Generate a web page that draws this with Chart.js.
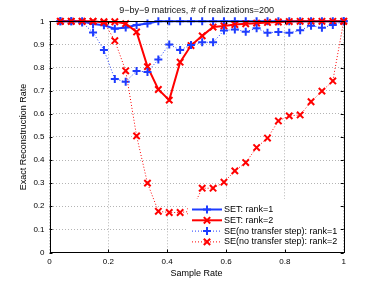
<!DOCTYPE html>
<html>
<head>
<meta charset="utf-8">
<script src="https://cdn.jsdelivr.net/npm/chart.js@4"></script>
<style>
  html, body { margin: 0; padding: 0; background: #fff; }
  #wrap { width: 379px; height: 285px; }
</style>
</head>
<body>
<div id="wrap"><canvas id="chart"></canvas></div>
<script>
// sample rate = m/81 entries observed, m = 3, 6, ..., 81
const sampleRate = [0.037, 0.074, 0.111, 0.148, 0.185, 0.222, 0.259, 0.296, 0.333,
  0.370, 0.407, 0.444, 0.481, 0.519, 0.556, 0.593, 0.630, 0.667,
  0.704, 0.741, 0.778, 0.815, 0.852, 0.889, 0.926, 0.963, 1];

const setRank1 = [1, 1, 1, 0.988, 0.983, 0.968, 0.973, 0.984, 0.99,
  1, 1, 1, 1, 1, 1, 1, 1, 1, 1, 1, 1, 1, 1, 1, 1, 1, 1];
const setRank2 = [1, 1, 1, 1, 0.995, 0.998, 0.99, 0.954, 0.804,
  0.705, 0.659, 0.823, 0.895, 0.937, 0.975, 0.98, 0.986, 0.989,
  0.992, 0.995, 0.997, 0.999, 1, 1, 1, 1, 1];
const seRank1 = [1, 1, 0.995, 0.952, 0.876, 0.75, 0.739, 0.785, 0.781,
  0.835, 0.9, 0.876, 0.898, 0.909, 0.909, 0.96, 0.965, 0.955,
  0.97, 0.95, 0.954, 0.95, 0.961, 0.981, 0.972, 0.984, 1];
const seRank2 = [1, 1, 1, 1, 0.998, 0.916, 0.786, 0.504, 0.3,
  0.178, 0.173, 0.173, 0.178, 0.278, 0.278, 0.304, 0.353, 0.389,
  0.454, 0.495, 0.569, 0.591, 0.595, 0.652, 0.698, 0.742, 1];

const seriesNames = ['SET: rank=1', 'SET: rank=2',
  'SE(no transfer step): rank=1', 'SE(no transfer step): rank=2'];
const xTicks = [0, 0.2, 0.4, 0.6, 0.8, 1];
const yTicks = [0, 0.1, 0.2, 0.3, 0.4, 0.5, 0.6, 0.7, 0.8, 0.9, 1];

const BLUE = 'rgb(30,60,255)';
const RED = 'rgb(255,0,0)';
const FONT = '"Liberation Sans", Arial, Helvetica, sans-serif';

function pts(vals) {
  return vals.map((v, i) => ({ x: sampleRate[i], y: v }));
}

function series(label, vals, color, solid, style, order) {
  return {
    label: label,
    data: pts(vals),
    borderColor: color,
    backgroundColor: color,
    borderWidth: solid ? 2 : 1,
    borderDash: solid ? [] : [1, 2],
    pointStyle: style,
    pointRadius: style === 'cross' ? 4 : 4.5,
    pointHoverRadius: 4,
    pointBorderWidth: 2,
    pointBorderColor: color,
    pointBackgroundColor: color,
    fill: false,
    tension: 0,
    clip: false,
    order: order
  };
}

// legend drawn in the lower right like the matlab one
const matLegend = {
  id: 'matLegend',
  afterDatasetsDraw(chart) {
    const ctx = chart.ctx;
    ctx.save();
    ctx.fillStyle = '#fff';
    ctx.fillRect(188, 199, 154, 51);
    chart.data.datasets.forEach((ds, i) => {
      const y = 209.5 + i * 10.8;
      ctx.strokeStyle = ds.borderColor;
      ctx.lineWidth = ds.borderWidth;
      ctx.setLineDash(ds.borderDash);
      ctx.beginPath();
      ctx.moveTo(192, y);
      ctx.lineTo(222, y);
      ctx.stroke();
      ctx.setLineDash([]);
      ctx.lineWidth = ds.pointBorderWidth;
      Chart.helpers.drawPoint(ctx, {
        pointStyle: ds.pointStyle, radius: ds.pointRadius, rotation: 0, borderWidth: 2
      }, 207, y);
      ctx.fillStyle = '#000';
      ctx.font = '9px ' + FONT;
      ctx.textAlign = 'left';
      ctx.textBaseline = 'middle';
      ctx.fillText(ds.label, 224, y);
    });
    ctx.restore();
  }
};

// axes box with inward tick marks
const axesBox = {
  id: 'axesBox',
  afterDraw(chart) {
    const { ctx, chartArea: a, scales } = chart;
    ctx.save();
    ctx.strokeStyle = '#000';
    ctx.lineWidth = 1;
    ctx.beginPath();
    xTicks.forEach(t => {
      const px = Math.round(scales.x.getPixelForValue(t)) + 0.5;
      ctx.moveTo(px, a.bottom); ctx.lineTo(px, a.bottom - 3);
      ctx.moveTo(px, a.top); ctx.lineTo(px, a.top + 3);
    });
    yTicks.forEach(t => {
      const py = Math.round(scales.y.getPixelForValue(t)) + 0.5;
      ctx.moveTo(a.left, py); ctx.lineTo(a.left + 3, py);
      ctx.moveTo(a.right, py); ctx.lineTo(a.right - 3, py);
    });
    ctx.stroke();
    ctx.strokeRect(Math.round(a.left) + 0.5, Math.round(a.top) + 0.5,
      Math.round(a.right - a.left), Math.round(a.bottom - a.top));
    ctx.restore();
  }
};

new Chart(document.getElementById('chart'), {
  type: 'line',
  data: {
    datasets: [
      series(seriesNames[0], setRank1, BLUE, true, 'cross', 3),
      series(seriesNames[1], setRank2, RED, true, 'crossRot', 2),
      series(seriesNames[2], seRank1, BLUE, false, 'cross', 1),
      series(seriesNames[3], seRank2, RED, false, 'crossRot', 0)
    ]
  },
  options: {
    responsive: true,
    maintainAspectRatio: false,
    animation: false,
    layout: { padding: { left: 0, right: 35.3, top: 0, bottom: 0 } },
    plugins: {
      legend: { display: false },
      tooltip: { enabled: false },
      title: {
        display: true,
        fullSize: false,
        text: '9\u2212by\u22129 matrices, # of realizations=200',
        color: '#111',
        font: { family: FONT, size: 9, weight: 'normal', lineHeight: 1.2 },
        padding: { top: 5.5, bottom: 5 }
      }
    },
    scales: {
      x: {
        type: 'linear',
        min: 0,
        max: 1,
        afterBuildTicks: s => { s.ticks = xTicks.map(v => ({ value: v })); },
        afterFit: s => { s.height = 32.5; },
        ticks: {
          color: '#000',
          padding: 4,
          font: { family: FONT, size: 8 },
          callback: v => String(v)
        },
        grid: { color: '#b4b4b4', lineWidth: 1, drawTicks: false },
        border: { display: false, dash: [1, 2] },
        title: {
          display: true,
          text: 'Sample Rate',
          color: '#000',
          font: { family: FONT, size: 9, lineHeight: 1.2 },
          padding: { top: 0, bottom: 6 }
        }
      },
      y: {
        type: 'linear',
        min: 0,
        max: 1,
        afterBuildTicks: s => { s.ticks = yTicks.map(v => ({ value: v })); },
        afterFit: s => { s.width = 49.5; },
        ticks: {
          color: '#000',
          padding: 5,
          font: { family: FONT, size: 8 },
          callback: v => String(v)
        },
        grid: { color: '#b4b4b4', lineWidth: 1, drawTicks: false },
        border: { display: false, dash: [1, 2] },
        title: {
          display: true,
          text: 'Exact Reconstruction Rate',
          color: '#000',
          font: { family: FONT, size: 9, lineHeight: 1.2 },
          padding: { top: 18.5, bottom: 0 }
        }
      }
    }
  },
  plugins: [matLegend, axesBox]
});
</script>
</body>
</html>
